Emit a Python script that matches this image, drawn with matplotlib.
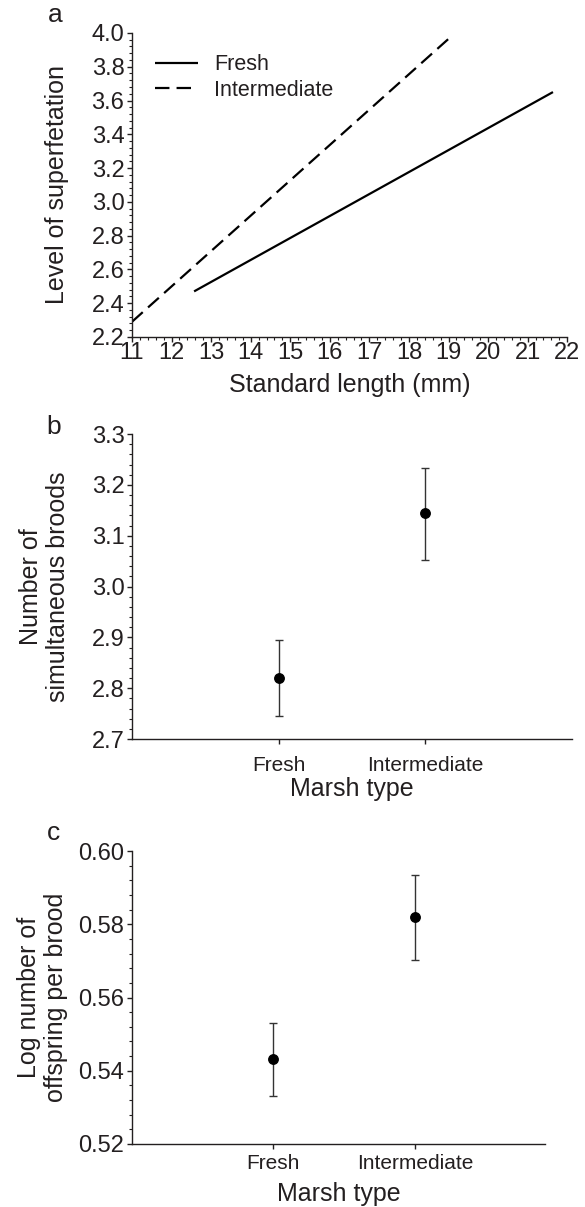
import matplotlib
matplotlib.use('Agg')
import matplotlib.pyplot as plt
from matplotlib.ticker import MultipleLocator, FormatStrFormatter

plt.rcParams['font.family'] = ['Liberation Sans', 'DejaVu Sans']
INK = '#231f20'

# panel a: fitted lines, level of superfetation vs standard length
fresh_len = [12.57, 21.64]
fresh_sf = [2.47, 3.65]
inter_len = [11.0, 19.0]
inter_sf = [2.29, 3.965]

# panels b and c: means with error bars
marsh_types = ['Fresh', 'Intermediate']
broods_mean = [2.821, 3.144]
broods_low = [2.745, 3.052]
broods_high = [2.895, 3.234]
offspring_mean = [0.5432, 0.582]
offspring_low = [0.5332, 0.5702]
offspring_high = [0.553, 0.5935]


def style_axis(ax):
    for side in ['top', 'right']:
        ax.spines[side].set_visible(False)
    for side in ['left', 'bottom']:
        ax.spines[side].set_linewidth(1.0)
        ax.spines[side].set_color(INK)
    ax.tick_params(which='major', direction='out', length=3.5, width=1, colors=INK, labelsize=17, pad=2)
    ax.tick_params(which='minor', direction='out', length=2, width=0.8, colors=INK)


fig = plt.figure(figsize=(5.85, 12.07), dpi=100)

# ---- panel a
ax1 = fig.add_axes([0.2256, 0.7208, 0.744, 0.2519])
ax1.plot(fresh_len, fresh_sf, color='black', lw=1.6, label='Fresh', solid_capstyle='butt')
ax1.plot(inter_len, inter_sf, color='black', lw=1.6, dashes=(6.5, 3.2), label='Intermediate')
ax1.set_xlim(11, 22)
ax1.set_ylim(2.2, 4.0)
ax1.xaxis.set_major_locator(MultipleLocator(1))
ax1.xaxis.set_minor_locator(MultipleLocator(0.2))
ax1.yaxis.set_major_locator(MultipleLocator(0.2))
ax1.yaxis.set_minor_locator(MultipleLocator(0.04))
ax1.yaxis.set_major_formatter(FormatStrFormatter('%.1f'))
style_axis(ax1)
ax1.tick_params(axis='x', pad=0)
ax1.set_xlabel('Standard length (mm)', fontsize=18, color=INK)
ax1.xaxis.set_label_coords(0.5, -0.12)
ax1.set_ylabel('Level of superfetation', fontsize=18, color=INK)
ax1.yaxis.set_label_coords(-0.145, 0.5)
ax1.legend(loc='upper left', bbox_to_anchor=(0.052, 0.93), frameon=False, fontsize=15.5,
           borderpad=0, borderaxespad=0, handlelength=2.0, handletextpad=0.75,
           labelspacing=0.2, labelcolor=INK)
fig.text(0.082, 0.9876, 'a', fontsize=19, color=INK, ha='left', va='center')

# ---- panel b
ax2 = fig.add_axes([0.2256, 0.3877, 0.752, 0.2527])
x = [1, 2]
err_b = [[m - l for m, l in zip(broods_mean, broods_low)],
         [h - m for m, h in zip(broods_mean, broods_high)]]
ax2.errorbar(x, broods_mean, yerr=err_b, fmt='o', color='black', ms=6.8,
             ecolor='#333333', elinewidth=1.0, capsize=3, capthick=1.0)
ax2.set_xlim(0, 3)
ax2.set_ylim(2.7, 3.3)
ax2.set_xticks(x)
ax2.set_xticklabels(marsh_types)
ax2.yaxis.set_major_locator(MultipleLocator(0.1))
ax2.yaxis.set_minor_locator(MultipleLocator(0.02))
ax2.yaxis.set_major_formatter(FormatStrFormatter('%.1f'))
style_axis(ax2)
ax2.tick_params(axis='x', labelsize=15, pad=9)
ax2.set_xlabel('Marsh type', fontsize=18, color=INK)
ax2.xaxis.set_label_coords(0.5, -0.125)
ax2.set_ylabel('Number of\nsimultaneous broods', fontsize=18, color=INK, linespacing=1.2)
ax2.yaxis.set_label_coords(-0.14, 0.5)
fig.text(0.08, 0.6462, 'b', fontsize=19, color=INK, ha='left', va='center')

# ---- panel c
ax3 = fig.add_axes([0.2256, 0.0522, 0.706, 0.2427])
err_c = [[m - l for m, l in zip(offspring_mean, offspring_low)],
         [h - m for m, h in zip(offspring_mean, offspring_high)]]
ax3.errorbar(x, offspring_mean, yerr=err_c, fmt='o', color='black', ms=6.8,
             ecolor='#333333', elinewidth=1.0, capsize=3, capthick=1.0)
ax3.set_xlim(0, 2.92)
ax3.set_ylim(0.52, 0.60)
ax3.set_xticks(x)
ax3.set_xticklabels(marsh_types)
ax3.yaxis.set_major_locator(MultipleLocator(0.02))
ax3.yaxis.set_minor_locator(MultipleLocator(0.004))
ax3.yaxis.set_major_formatter(FormatStrFormatter('%.2f'))
style_axis(ax3)
ax3.tick_params(axis='x', labelsize=15, pad=4)
ax3.set_xlabel('Marsh type', fontsize=18, color=INK)
ax3.xaxis.set_label_coords(0.5, -0.13)
ax3.set_ylabel('Log number of\noffspring per brood', fontsize=18, color=INK, linespacing=1.15)
ax3.yaxis.set_label_coords(-0.155, 0.5)
fig.text(0.08, 0.3099, 'c', fontsize=19, color=INK, ha='left', va='center')

fig.savefig('out.png', dpi=100)
